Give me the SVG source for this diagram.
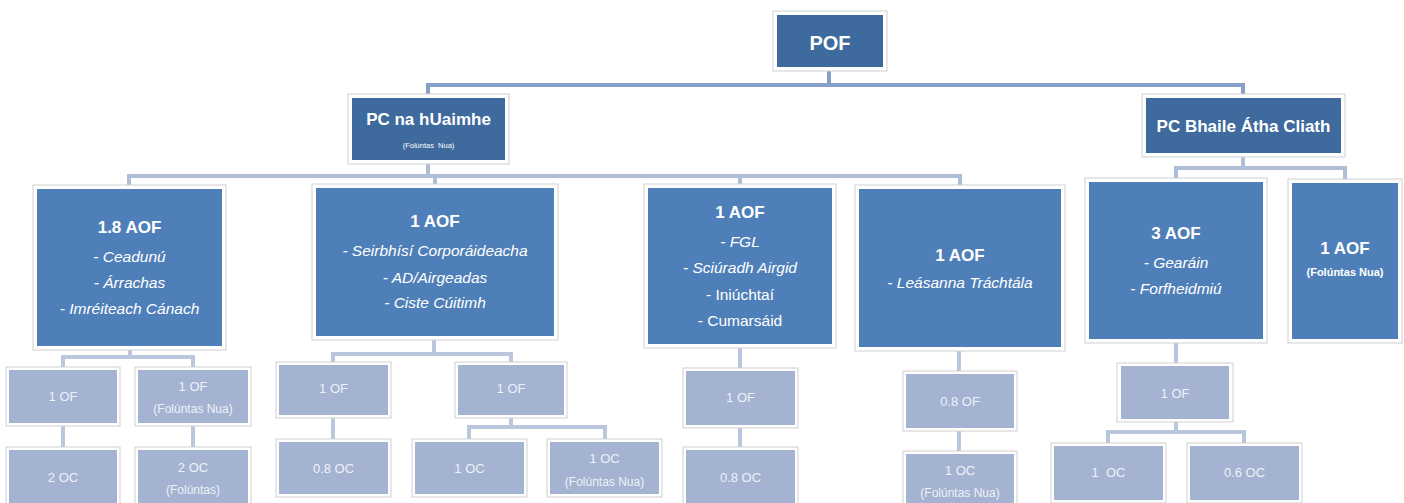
<svg xmlns="http://www.w3.org/2000/svg" width="1404" height="503" viewBox="0 0 1404 503">
<style>
.o{fill:#ffffff;stroke:#cfcfcf;stroke-width:1}
.d{fill:#3e6a9e}
.m{fill:#4f7fb8}
.l{fill:#a3b3d1}
.c1{fill:none;stroke:#86a0c8;stroke-width:4}
.c2{fill:none;stroke:#aebdd8;stroke-width:4}
.c3{fill:none;stroke:#bac6dd;stroke-width:4}
text{font-family:"Liberation Sans",Arial,sans-serif;text-anchor:middle}
.tb{fill:#ffffff;font-weight:bold;font-size:17px}
.ti{fill:#ffffff;font-style:italic;font-size:15.5px}
.tr{fill:#ffffff;font-size:15.5px}
.ts{fill:#eef2f8;font-size:13px}
.tss{fill:#eef2f8;font-size:12px}
</style>
<g id="connectors">
<path class="c1" d="M829 71 V85 M428 94 V85 H1243 V94"/>
<path class="c2" d="M428 164 V176 M129 185 V176 H960 V185 M435 176 V184 M740 176 V184"/>
<path class="c2" d="M1243 157 V168 M1176 178 V168 H1345 V179"/>
<path class="c3" d="M130 350 V357 M63 367 V357 H193 V367 M63 426 V447 M193 426 V447"/>
<path class="c3" d="M434 340 V354 M333 362 V354 H511 V362 M333 418 V439 M511 418 V427 M469 439 V427 H605 V439"/>
<path class="c3" d="M740 348 V368 M740 428 V447"/>
<path class="c3" d="M959 351 V371 M959 431 V451"/>
<path class="c3" d="M1176 343 V363 M1176 422 V432 M1108 443 V432 H1244 V443"/>
</g>
<g id="pof">
<rect class="o" x="773" y="11" width="114" height="60"/>
<rect class="d" x="777" y="15" width="106" height="52"/>
<text x="830" y="50" style="fill:#fff;font-weight:bold;font-size:20px">POF</text>
</g>
<g id="pc-uaimhe">
<rect class="o" x="348" y="94" width="161" height="70"/>
<rect class="d" x="352" y="98" width="153" height="62"/>
<text class="tb" x="428.5" y="125">PC na hUaimhe</text>
<text x="428.5" y="148" xml:space="preserve" style="fill:#fff;font-size:7.5px">(Folúntas  Nua)</text>
</g>
<g id="pc-bac">
<rect class="o" x="1142" y="94" width="203" height="63"/>
<rect class="d" x="1146" y="98" width="195" height="55"/>
<text class="tb" x="1243.5" y="132">PC Bhaile Átha Cliath</text>
</g>
<g id="aof-18">
<rect class="o" x="33" y="185" width="193" height="165"/>
<rect class="m" x="37" y="189" width="185" height="157"/>
<text class="tb" x="129.5" y="233">1.8 AOF</text>
<text class="ti" x="129.5" y="262">- Ceadunú</text>
<text class="ti" x="129.5" y="288">- Árrachas</text>
<text class="ti" x="129.5" y="314">- Imréiteach Cánach</text>
</g>
<g id="aof-seirbhisi">
<rect class="o" x="312" y="184" width="246" height="156"/>
<rect class="m" x="316" y="188" width="238" height="148"/>
<text class="tb" x="435" y="227">1 AOF</text>
<text class="ti" x="435" y="256">- Seirbhísí Corporáideacha</text>
<text class="ti" x="435" y="283">- AD/Airgeadas</text>
<text class="ti" x="435" y="308">- Ciste Cúitimh</text>
</g>
<g id="aof-fgl">
<rect class="o" x="644" y="184" width="192" height="164"/>
<rect class="m" x="648" y="188" width="184" height="156"/>
<text class="tb" x="740" y="218">1 AOF</text>
<text class="ti" x="740" y="247">- FGL</text>
<text class="ti" x="740" y="273">- Sciúradh Airgid</text>
<text class="tr" x="740" y="300">- Iniúchtaí</text>
<text class="tr" x="740" y="326">- Cumarsáid</text>
</g>
<g id="aof-leasanna">
<rect class="o" x="855" y="185" width="210" height="166"/>
<rect class="m" x="859" y="189" width="202" height="158"/>
<text class="tb" x="960" y="261">1 AOF</text>
<text class="ti" x="960" y="288">- Leásanna Tráchtála</text>
</g>
<g id="aof-3">
<rect class="o" x="1085" y="178" width="182" height="165"/>
<rect class="m" x="1089" y="182" width="174" height="157"/>
<text class="tb" x="1176" y="239">3 AOF</text>
<text class="ti" x="1176" y="268">- Gearáin</text>
<text class="ti" x="1176" y="294">- Forfheidmiú</text>
</g>
<g id="aof-nua">
<rect class="o" x="1288" y="179" width="114" height="164"/>
<rect class="m" x="1292" y="183" width="106" height="156"/>
<text class="tb" x="1345" y="254">1 AOF</text>
<text x="1345" y="276" style="fill:#fff;font-weight:bold;font-size:11px">(Folúntas Nua)</text>
</g>
<g id="of-a1">
<rect class="o" x="6" y="367" width="114" height="59"/>
<rect class="l" x="9" y="370" width="108" height="53"/>
<text class="ts" x="63" y="400.5">1 OF</text>
</g>
<g id="of-a2">
<rect class="o" x="135" y="367" width="116" height="59"/>
<rect class="l" x="138" y="370" width="110" height="53"/>
<text class="ts" x="193" y="390.5">1 OF</text>
<text class="tss" x="193" y="413">(Folúntas Nua)</text>
</g>
<g id="oc-a1">
<rect class="o" x="6" y="447" width="114" height="60"/>
<rect class="l" x="9" y="450" width="108" height="54"/>
<text class="ts" x="63" y="481.5">2 OC</text>
</g>
<g id="oc-a2">
<rect class="o" x="135" y="447" width="116" height="60"/>
<rect class="l" x="138" y="450" width="110" height="54"/>
<text class="ts" x="193" y="471.5">2 OC</text>
<text class="tss" x="193" y="494">(Folúntas)</text>
</g>
<g id="of-b1">
<rect class="o" x="276" y="362" width="115" height="56"/>
<rect class="l" x="279" y="365" width="109" height="50"/>
<text class="ts" x="333.5" y="392.5">1 OF</text>
</g>
<g id="of-b2">
<rect class="o" x="455" y="362" width="112" height="56"/>
<rect class="l" x="458" y="365" width="106" height="50"/>
<text class="ts" x="511" y="392.5">1 OF</text>
</g>
<g id="oc-b1">
<rect class="o" x="276" y="439" width="115" height="58"/>
<rect class="l" x="279" y="442" width="109" height="52"/>
<text class="ts" x="333.5" y="472.5">0.8 OC</text>
</g>
<g id="oc-b2">
<rect class="o" x="412" y="439" width="115" height="58"/>
<rect class="l" x="415" y="442" width="109" height="52"/>
<text class="ts" x="469.5" y="472.5">1 OC</text>
</g>
<g id="oc-b3">
<rect class="o" x="547" y="439" width="115" height="58"/>
<rect class="l" x="550" y="442" width="109" height="52"/>
<text class="ts" x="604.5" y="462.5">1 OC</text>
<text class="tss" x="604.5" y="486">(Folúntas Nua)</text>
</g>
<g id="of-c">
<rect class="o" x="683" y="368" width="115" height="60"/>
<rect class="l" x="686" y="371" width="109" height="54"/>
<text class="ts" x="740.5" y="401.5">1 OF</text>
</g>
<g id="oc-c">
<rect class="o" x="683" y="447" width="115" height="60"/>
<rect class="l" x="686" y="450" width="109" height="54"/>
<text class="ts" x="740.5" y="481.5">0.8 OC</text>
</g>
<g id="of-d">
<rect class="o" x="903" y="371" width="114" height="60"/>
<rect class="l" x="906" y="374" width="108" height="54"/>
<text class="ts" x="960" y="405.5">0.8 OF</text>
</g>
<g id="oc-d">
<rect class="o" x="903" y="451" width="114" height="60"/>
<rect class="l" x="906" y="454" width="108" height="54"/>
<text class="ts" x="960" y="474.5">1 OC</text>
<text class="tss" x="960" y="497">(Folúntas Nua)</text>
</g>
<g id="of-e">
<rect class="o" x="1117" y="363" width="116" height="59"/>
<rect class="l" x="1121" y="366" width="108" height="53"/>
<text class="ts" x="1175" y="397.5">1 OF</text>
</g>
<g id="oc-e1">
<rect class="o" x="1051" y="443" width="115" height="60"/>
<rect class="l" x="1054" y="446" width="109" height="54"/>
<text class="ts" x="1108.5" y="476.5" xml:space="preserve">1  OC</text>
</g>
<g id="oc-e2">
<rect class="o" x="1187" y="443" width="115" height="60"/>
<rect class="l" x="1190" y="446" width="109" height="54"/>
<text class="ts" x="1244.5" y="476.5">0.6 OC</text>
</g>
</svg>
